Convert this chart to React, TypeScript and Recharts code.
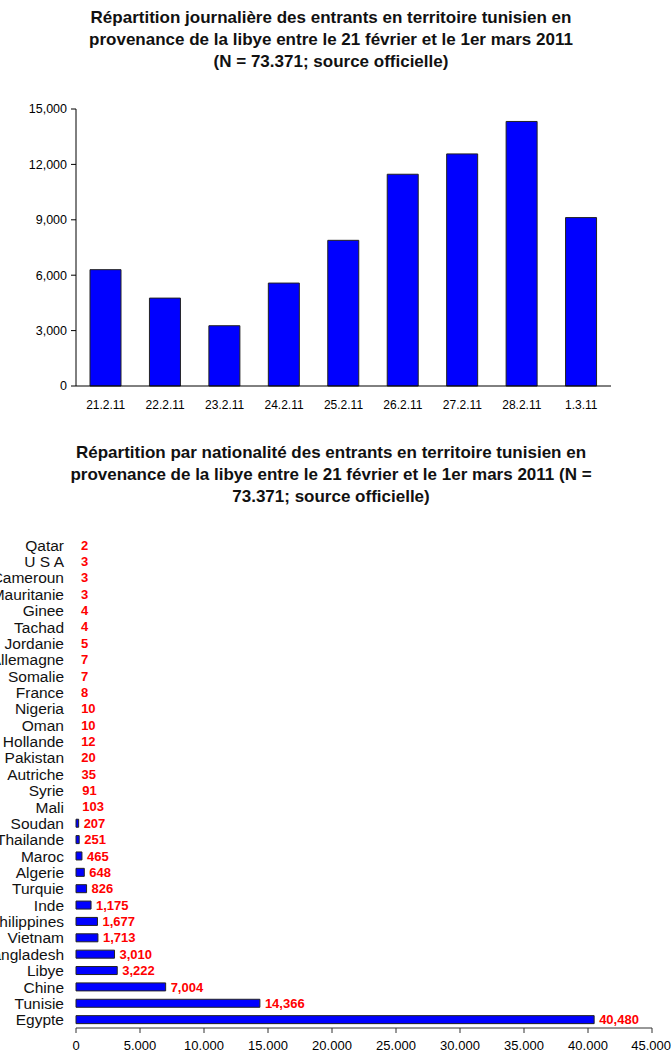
import React from "react";
import {
  BarChart,
  Bar,
  XAxis,
  YAxis,
  LabelList,
  Rectangle,
} from "recharts";

// daily entries
const days = ["21.2.11", "22.2.11", "23.2.11", "24.2.11", "25.2.11", "26.2.11", "27.2.11", "28.2.11", "1.3.11"];
const dailyEntrants = [6300, 4760, 3264, 5574, 7889, 11467, 12568, 14325, 9120];
const dailyTicks = [0, 3000, 6000, 9000, 12000, 15000];

// by nationality
const countries = [
  "Qatar", "U S A", "Cameroun", "Mauritanie", "Ginee", "Tachad", "Jordanie",
  "Allemagne", "Somalie", "France", "Nigeria", "Oman", "Hollande", "Pakistan",
  "Autriche", "Syrie", "Mali", "Soudan", "Thailande", "Maroc", "Algerie",
  "Turquie", "Inde", "Philippines", "Vietnam", "Bangladesh", "Libye", "Chine",
  "Tunisie", "Egypte",
];
const countryEntrants = [
  2, 3, 3, 3, 4, 4, 5, 7, 7, 8, 10, 10, 12, 20, 35, 91, 103, 207, 251, 465,
  648, 826, 1175, 1677, 1713, 3010, 3222, 7004, 14366, 40480,
];
const countryTicks = [0, 5000, 10000, 15000, 20000, 25000, 30000, 35000, 40000, 45000];

const font = "'Liberation Sans', Arial, sans-serif";

const dailyData = days.map((d, i) => ({ day: d, value: dailyEntrants[i] }));
const countryData = countries.map((c, i) => ({ country: c, value: countryEntrants[i] }));

const comma = (v: number) => v.toLocaleString("en-US");
const dot = (v: number) => v.toLocaleString("en-US").replace(/,/g, ".");

// bars under ~2px wide don't show in the original
const ThinBar = (props: any) =>
  props.width < 2 ? <g /> : <Rectangle {...props} />;

const titleStyle: React.CSSProperties = {
  position: "absolute",
  left: 0,
  width: 662,
  textAlign: "center",
  fontFamily: font,
  fontWeight: "bold",
  fontSize: 17,
  lineHeight: "22px",
  color: "#111",
};

export default function App() {
  return (
    <div style={{ position: "absolute", left: 0, top: 0, width: 671, height: 1053, background: "#fff" }}>
      <div style={{ ...titleStyle, top: 7 }}>
        Répartition journalière des entrants en territoire tunisien en
        <br />
        provenance de la libye entre le 21 février et le 1er mars 2011
        <br />
        (N = 73.371; source officielle)
      </div>

      <div style={{ position: "absolute", left: 0, top: 0 }}>
        <BarChart
          width={671}
          height={420}
          data={dailyData}
          margin={{ top: 109, right: 60, bottom: 4, left: 8 }}
          barCategoryGap="0%"
        >
          <XAxis
            dataKey="day"
            tickLine={false}
            axisLine={{ stroke: "#000" }}
            tick={{ fill: "#000", fontSize: 12, fontFamily: font }}
            tickSize={6}
            tickMargin={8}
            height={30}
            interval={0}
          />
          <YAxis
            domain={[0, 15000]}
            ticks={dailyTicks}
            tickFormatter={comma}
            axisLine={{ stroke: "#000" }}
            tickLine={{ stroke: "#000" }}
            tick={{ fill: "#000", fontSize: 12.5, fontFamily: font }}
            tickSize={5}
            tickMargin={4}
            width={68}
          />
          <Bar dataKey="value" fill="#0000FF" stroke="#222" strokeWidth={1} barSize={31} isAnimationActive={false} />
        </BarChart>
      </div>

      <div style={{ ...titleStyle, top: 442 }}>
        Répartition par nationalité des entrants en territoire tunisien en
        <br />
        provenance de la libye entre le 21 février et le 1er mars 2011 (N =
        <br />
        73.371; source officielle)
      </div>

      <div style={{ position: "absolute", left: 0, top: 520 }}>
        <BarChart
          width={671}
          height={533}
          data={countryData}
          layout="vertical"
          margin={{ top: 17, right: 19, bottom: 0, left: 0 }}
        >
          <XAxis
            type="number"
            domain={[0, 45000]}
            ticks={countryTicks}
            tickFormatter={dot}
            axisLine={{ stroke: "#333" }}
            tickLine={{ stroke: "#333" }}
            tick={{ fill: "#000", fontSize: 13, fontFamily: font }}
            tickSize={5}
            tickMargin={8}
            height={25}
          />
          <YAxis
            type="category"
            dataKey="country"
            axisLine={false}
            tickLine={false}
            tick={{ fill: "#111", fontSize: 15.5, fontFamily: font }}
            tickSize={0}
            tickMargin={12}
            width={76}
            interval={0}
          />
          <Bar
            dataKey="value"
            fill="#0000FF"
            stroke="#222"
            strokeWidth={1}
            barSize={8}
            shape={ThinBar}
            isAnimationActive={false}
          >
            <LabelList
              dataKey="value"
              position="right"
              offset={5}
              formatter={(v: number) => comma(v)}
              style={{ fill: "#FF0000", fontWeight: "bold", fontSize: 13, fontFamily: font }}
            />
          </Bar>
        </BarChart>
      </div>
    </div>
  );
}
